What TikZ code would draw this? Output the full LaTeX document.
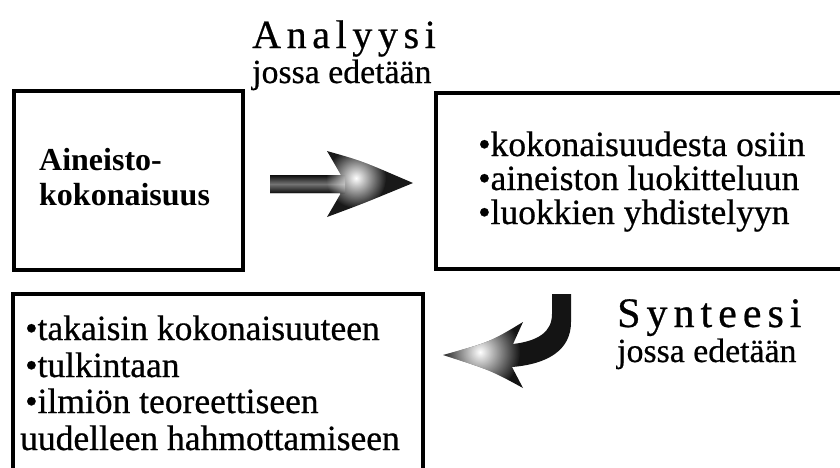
\documentclass[tikz,border=0pt]{standalone}
\usepackage{fontspec}
\setmainfont{Liberation Serif}
\newfontfamily\bodyfont{Liberation Serif}[FakeBold=0.6]
\usetikzlibrary{fadings}
\tikzfading[name=glow, inner color=transparent!0, outer color=transparent!100]
\newcommand\lsa{\kern5.6pt}
\newcommand\lsb{\kern6.0pt}
\begin{document}
\begin{tikzpicture}[x=1pt,y=-1pt,
  box/.style={draw=black, line width=3.4pt, rectangle, inner sep=0pt},
  txt/.style={anchor=base west, inner sep=0pt, font=\bodyfont\fontsize{35.5}{36}\selectfont},
  btxt/.style={anchor=base west, inner sep=0pt, font=\fontsize{32}{34}\selectfont\bfseries},
  ttl/.style={anchor=base west, inner sep=0pt},
  sub/.style={anchor=base west, inner sep=0pt, font=\bodyfont\fontsize{33.8}{34}\selectfont},
  glowspot/.style={fill=white, path fading=glow}
]
\useasboundingbox (0,0) rectangle (840,467);
\clip (0,0) rectangle (840,467);
% boxes
\node[box, minimum width=229pt, minimum height=179pt] (b1) at (128.5,180.5) {};
\node[box, minimum width=409pt, minimum height=176pt] (b2) at (640.5,181) {};
\node[box, minimum width=410pt, minimum height=196pt] (b3) at (218,392) {};
% titles
\node[ttl, font=\bodyfont\fontsize{40}{40}\selectfont] (an) at (252,48) {A\lsa n\lsa a\lsa l\lsa y\lsa y\lsa s\lsa i};
\node[sub] (an2) at (252,83) {jossa edetään};
\node[ttl, font=\bodyfont\fontsize{42}{42}\selectfont] (sy) at (617,327) {S\lsb y\lsb n\lsb t\lsb e\lsb e\lsb s\lsb i};
\node[sub] (sy2) at (617,362) {jossa edetään};
% box 1 text
\node[btxt] (t1a) at (39,170) {Aineisto-};
\node[btxt] (t1b) at (39,205) {kokonaisuus};
% box 2 text
\node[txt] (t2a) at (478,156) {•kokonaisuudesta osiin};
\node[txt] (t2b) at (478,190) {•aineiston luokitteluun};
\node[txt] (t2c) at (478,224) {•luokkien yhdistelyyn};
% box 3 text
\node[txt] (t3a) at (25,340) {•takaisin kokonaisuuteen};
\node[txt] (t3b) at (25,377) {•tulkintaan};
\node[txt] (t3c) at (25,413) {•ilmiön teoreettiseen};
\node[txt] (t3d) at (20,450) {uudelleen hahmottamiseen};
% straight arrow (analysis)
\begin{scope}
\clip (270,175) -- (341,175) -- (327,151) .. controls (362,161) .. (413,183)
      .. controls (362,204) .. (327,217) -- (341,193) -- (270,193) -- cycle;
\fill[black!90] (260,140) rectangle (420,225);
\shade[top color=black!95, bottom color=black!95, middle color=black!55] (265,175) rectangle (345,193);
\fill[glowspot] (356,178) circle (30);
\end{scope}
% curved arrow (synthesis)
\begin{scope}
\clip (552,294) -- (571,294) -- (571,322) .. controls (571,350) and (548,364) .. (512,367)
      -- (523,388) .. controls (490,370) .. (443,355) .. controls (490,342) .. (523,322)
      -- (513,344) .. controls (538,341) and (552,332) .. (552,314) -- cycle;
\fill[black!92] (430,285) rectangle (580,395);
\fill[glowspot] (480,352) circle (40);
\end{scope}
\end{tikzpicture}
\end{document}
